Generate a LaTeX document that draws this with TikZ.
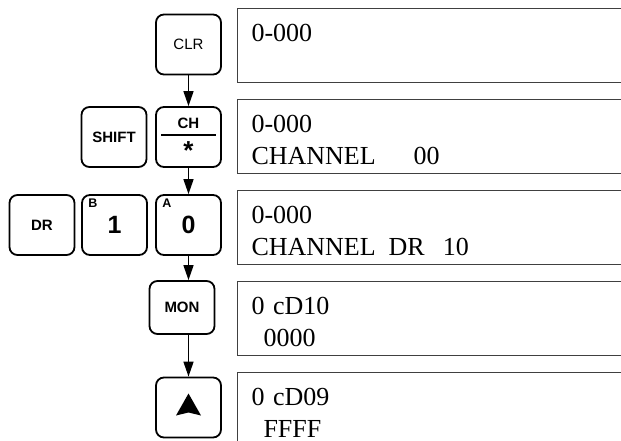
\documentclass[tikz,border=0pt]{standalone}
\usepackage{fontspec}
\usepackage{tikz}
\usetikzlibrary{arrows.meta,positioning}
\newfontfamily\dispfont{Liberation Serif}
\newfontfamily\keyfont{Liberation Sans}

\begin{document}
\begin{tikzpicture}[x=1pt, y=-1pt,
    key/.style={draw, line width=1.8pt, rounded corners=8pt, minimum width=65pt,
      minimum height=60pt, align=center, font=\keyfont\fontsize{15}{18}\selectfont\bfseries},
    keytext/.style={inner sep=0pt, anchor=base, font=\keyfont\fontsize{15}{18}\selectfont\bfseries},
    disp/.style={draw=black!75, line width=1pt, anchor=north west, minimum height=74pt,
      text width=400pt, inner xsep=14pt, inner ysep=5pt, text height=28pt, text depth=36pt,
      align=left, font=\dispfont\fontsize{26}{32}\selectfont},
    sup/.style={inner sep=0pt, anchor=north west, font=\keyfont\fontsize{12.5}{14}\selectfont\bfseries},
    flow/.style={line width=1.5pt, -{Triangle[length=15pt,width=10pt]}}]
  \useasboundingbox (0,0) rectangle (621,440);
  \clip (0,0) rectangle (621,440);

  % display panels
  \node[disp] (d1) at (237,7.5) {0-000\\\mbox{}};
  \node[disp, below=16pt of d1] (d2) {0-000\\CHANNEL\hspace{38pt}00};
  \node[disp, below=16pt of d2] (d3) {0-000\\CHANNEL\hspace{13pt}DR\hspace{18pt}10};
  \node[disp, below=16pt of d3] (d4) {0 cD10\\\hspace*{12pt}0000};
  \node[disp, below=16pt of d4] (d5) {0 cD09\\\hspace*{12pt}FFFF};

  % keys
  \node[key, font=\keyfont\fontsize{15}{18}\selectfont] (clr) at (188.5,44.5) {CLR};
  \node[key] (ch) at (188.5,137) {};
  \node[keytext] (chtxt) at ([shift={(0,-9)}]ch.center) {CH};
  \node[keytext, font=\keyfont\fontsize{26}{26}\selectfont\bfseries] (chstar) at ([shift={(0,22)}]ch.center) {*};
  \draw[line width=1.6pt] ([shift={(6,-2)}]ch.west) -- ([shift={(-6,-2)}]ch.east);
  \node[key] (shift) at (114,137) {SHIFT};

  \node[key] (dr) at (42,225) {DR};
  \node[key] (b1) at (114.5,225) {\fontsize{25}{30}\selectfont 1};
  \node[key] (a0) at (188.5,225) {\fontsize{25}{30}\selectfont 0};
  \node[sup] (bsup) at ([shift={(7,5)}]b1.north west) {B};
  \node[sup] (asup) at ([shift={(7,5)}]a0.north west) {A};

  \node[key, minimum height=53pt] (mon) at (182,307.5) {MON};
  \node[key] (up) at (188.5,407.5) {};
  \fill[shift={(up.center)}] (0,-14) -- (12.5,8) -- (0,5) -- (-12.5,8) -- cycle;

  % key sequence
  \draw[flow] (clr) -- (ch);
  \draw[flow] (ch) -- (a0);
  \draw[flow] (a0.south) -- (a0.south |- mon.north);
  \draw[flow] (a0.south |- mon.south) -- (up.north);
\end{tikzpicture}
\end{document}
